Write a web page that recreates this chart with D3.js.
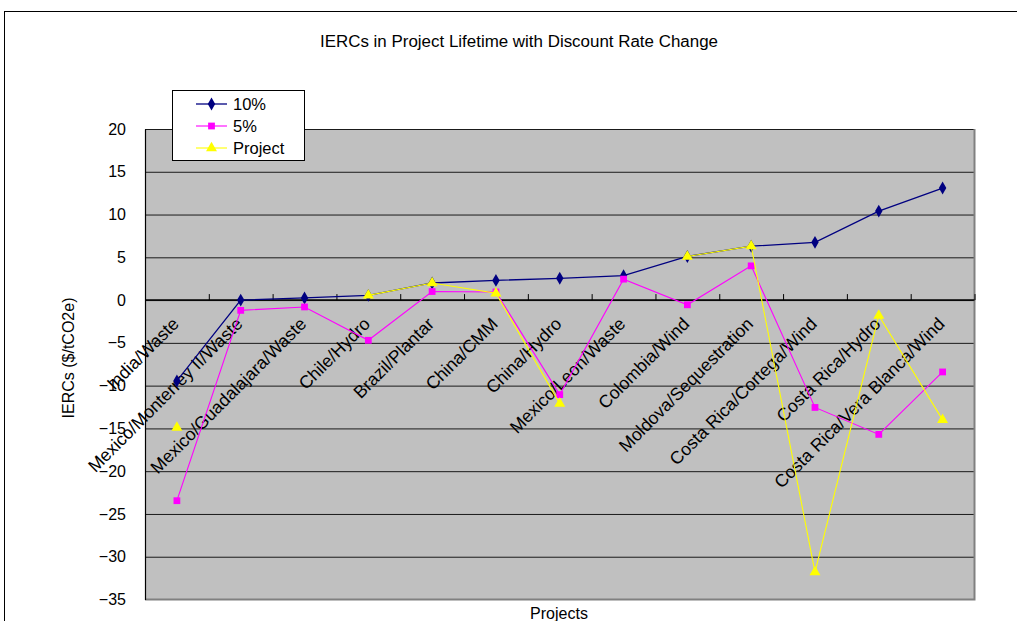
<!DOCTYPE html>
<html>
<head>
<meta charset="utf-8">
<script src="https://cdn.jsdelivr.net/npm/d3@7"></script>
<style>
  html, body { margin: 0; padding: 0; background: #fff; }
  svg { display: block; font-family: "Liberation Sans", Arial, sans-serif; }
</style>
</head>
<body>
<svg id="chart" width="1017" height="621"></svg>
<script>
// Project categories along the x axis
const categories = [
  "India/Waste",
  "Mexico/Monterrey II/Waste",
  "Mexico/Guadalajara/Waste",
  "Chile/Hydro",
  "Brazil/Plantar",
  "China/CMM",
  "China/Hydro",
  "Mexico/Leon/Waste",
  "Colombia/Wind",
  "Moldova/Sequestration",
  "Costa Rica/Cortega/Wind",
  "Costa Rica/Hydro",
  "Costa Rica/Vera Blanca/Wind"
];

// IERCs ($/tCO2e) per project
const rate10 = [-9.45, 0.0, 0.25, 0.55, 2.0, 2.3, 2.55, 2.85, 5.1, 6.3, 6.75, 10.4, 13.1];
const rate5 = [-23.45, -1.2, -0.8, -4.7, 1.0, 0.95, -11.05, 2.45, -0.55, 4.0, -12.55, -15.7, -8.4];
const projectRate = [-14.9, null, null, 0.55, 2.0, 0.8, -12.1, null, 5.1, 6.3, -31.8, -1.8, -14.0];

const yTicks = [20, 15, 10, 5, 0, -5, -10, -15, -20, -25, -30, -35];

const seriesNames = ["10%", "5%", "Project"];

const svg = d3.select("#chart");
const W = 1017, H = 621;

const plot = { left: 145, top: 129, right: 974.5, bottom: 599.5 };

const x = d3.scaleBand()
  .domain(categories)
  .range([plot.left, plot.right])
  .paddingInner(0).paddingOuter(0);

const y = d3.scaleLinear()
  .domain([-35, 20])
  .range([plot.bottom, plot.top]);

// Outer chart frame
svg.append("rect")
  .attr("x", 4.5).attr("y", 11.5)
  .attr("width", W + 20).attr("height", H + 20)
  .attr("fill", "#fff").attr("stroke", "#000").attr("stroke-width", 1);

// Title
svg.append("text")
  .attr("x", 519).attr("y", 46.5)
  .attr("text-anchor", "middle")
  .attr("font-size", 16)
  .attr("textLength", 398)
  .attr("lengthAdjust", "spacingAndGlyphs")
  .attr("fill", "#000")
  .text("IERCs in Project Lifetime with Discount Rate Change");

// Plot area background
svg.append("rect")
  .attr("x", plot.left).attr("y", plot.top)
  .attr("width", plot.right - plot.left).attr("height", plot.bottom - plot.top)
  .attr("fill", "#c0c0c0");

// Horizontal gridlines
const grid = svg.append("g")
  .attr("transform", `translate(${plot.left},0)`)
  .call(d3.axisLeft(y).tickValues(yTicks.filter(t => t !== -35)).tickSize(-(plot.right - plot.left)).tickFormat(""));
grid.select(".domain").remove();
grid.selectAll(".tick line").attr("stroke", "#1a1a1a").attr("stroke-width", 1);

// Plot border (right and bottom grey)
svg.append("path")
  .attr("d", `M${plot.right},${plot.top}V${plot.bottom}H${plot.left}`)
  .attr("fill", "none").attr("stroke", "#808080").attr("stroke-width", 2);

// Value axis
const yAxis = svg.append("g")
  .attr("transform", `translate(${plot.left},0)`)
  .call(d3.axisLeft(y).tickValues(yTicks).tickSize(0).tickPadding(19));
yAxis.select(".domain").attr("stroke", "#000").attr("stroke-width", 1.2);
yAxis.selectAll("text")
  .attr("font-size", 16)
  .attr("font-family", "Liberation Sans, Arial, sans-serif")
  .attr("fill", "#000");

// Category axis crossing at zero, tick marks between categories
const boundaries = categories.slice(1).map(c => x(c)).concat([plot.right]);
const xAxisScale = d3.scaleLinear().domain([plot.left, plot.right]).range([plot.left, plot.right]);
const xAxis = svg.append("g")
  .attr("transform", `translate(0,${y(0)})`)
  .call(d3.axisTop(xAxisScale).tickValues(boundaries).tickSize(6).tickFormat(""));
xAxis.select(".domain").attr("stroke", "#000").attr("stroke-width", 1.5).attr("d", `M${plot.left},0H${plot.right}`);
xAxis.selectAll(".tick line").attr("stroke", "#000").attr("stroke-width", 1);

// Category labels
svg.append("g").selectAll("text")
  .data(categories)
  .join("text")
  .attr("transform", d => `translate(${x(d) + x.bandwidth() / 2 + 3},${y(0) + 25}) rotate(-45)`)
  .attr("text-anchor", "end")
  .attr("font-size", 17.7)
  .attr("fill", "#000")
  .text(d => d);

// Axis titles
svg.append("text")
  .attr("transform", `translate(74,358) rotate(-90)`)
  .attr("text-anchor", "middle")
  .attr("font-size", 16)
  .attr("fill", "#000")
  .text("IERCs ($/tCO2e)");

svg.append("text")
  .attr("x", 559).attr("y", 619)
  .attr("text-anchor", "middle")
  .attr("font-size", 16)
  .attr("fill", "#000")
  .text("Projects");

// Series
const cx = d => x(d) + x.bandwidth() / 2;
const series = [
  { name: seriesNames[0], values: rate10, color: "#000080", width: 1.3, marker: "diamond" },
  { name: seriesNames[1], values: rate5, color: "#ff00ff", width: 1.1, marker: "square" },
  { name: seriesNames[2], values: projectRate, color: "#ffff00", width: 1.1, marker: "triangle" }
];

const symbolFor = {
  diamond: d3.symbol().type(d3.symbolDiamond).size(48),
  square: d3.symbol().type(d3.symbolSquare).size(46),
  triangle: d3.symbol().type(d3.symbolTriangle).size(52)
};

const line = d3.line()
  .defined(d => d.v !== null)
  .x(d => cx(d.c))
  .y(d => y(d.v));

series.forEach(s => {
  const pts = categories.map((c, i) => ({ c, v: s.values[i] }));
  const g = svg.append("g");
  g.append("path")
    .datum(pts)
    .attr("d", line)
    .attr("fill", "none")
    .attr("stroke", s.color)
    .attr("stroke-width", s.width);
  g.selectAll("path.mk")
    .data(pts.filter(p => p.v !== null))
    .join("path")
    .attr("class", "mk")
    .attr("transform", p => `translate(${cx(p.c)},${y(p.v)})`)
    .attr("d", symbolFor[s.marker])
    .attr("fill", s.color);
});

// Legend
const legend = svg.append("g");
legend.append("rect")
  .attr("x", 172.5).attr("y", 90.5)
  .attr("width", 132).attr("height", 70)
  .attr("fill", "#fff").attr("stroke", "#000").attr("stroke-width", 1);
const rowY = [104, 126, 148];
series.forEach((s, i) => {
  legend.append("line")
    .attr("x1", 196).attr("x2", 227)
    .attr("y1", rowY[i]).attr("y2", rowY[i])
    .attr("stroke", s.color).attr("stroke-width", s.width);
  legend.append("path")
    .attr("transform", `translate(211.5,${rowY[i]})`)
    .attr("d", symbolFor[s.marker])
    .attr("fill", s.color);
  legend.append("text")
    .attr("x", 233).attr("y", rowY[i] + 6)
    .attr("font-size", 16.5)
    .attr("fill", "#000")
    .text(s.name);
});
</script>
</body>
</html>
